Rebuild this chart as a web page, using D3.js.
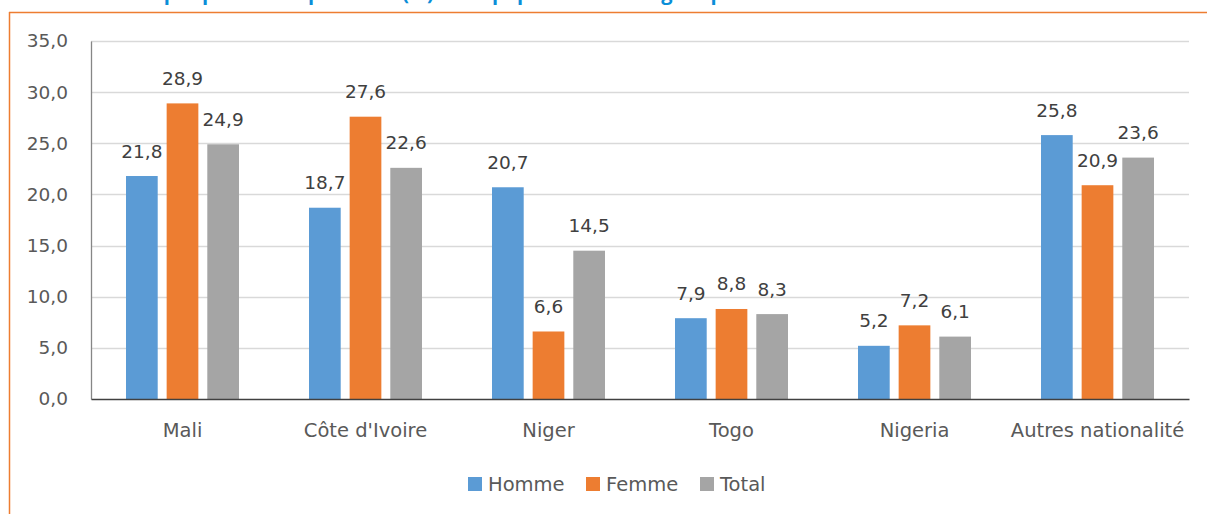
<!DOCTYPE html>
<html>
<head>
<meta charset="utf-8">
<script src="https://cdn.jsdelivr.net/npm/d3@7"></script>
<style>
  html, body { margin: 0; padding: 0; background: #fff; }
  svg { display: block; font-family: 'DejaVu Sans', sans-serif; }
</style>
</head>
<body>
<svg id="vis_svg" width="1207" height="514"></svg>
<script>
// data
const categories = ['Mali', "Côte d'Ivoire", 'Niger', 'Togo', 'Nigeria', 'Autres nationalité'];
const seriesNames = ['Homme', 'Femme', 'Total'];
const homme = [21.8, 18.7, 20.7, 7.9, 5.2, 25.8];
const femme = [28.9, 27.6, 6.6, 8.8, 7.2, 20.9];
const total = [24.9, 22.6, 14.5, 8.3, 6.1, 23.6];
const yTicks = [0, 5, 10, 15, 20, 25, 30, 35];
const colors = ['#5B9BD5', '#ED7D31', '#A5A5A5'];
const title = 'Graphique 2.3 : Répartition (%) de la population étrangère par nationalité selon le sexe';

const values = [homme, femme, total];
const fmt = (v) => v.toFixed(1).replace('.', ',');

const margin = { top: 41, bottom: 115, left: 91, right: 18 };
const svg = d3.select('#vis_svg');
const width = 1207;
const height = 514;

// frame of the document box (orange)
svg.append('line')
  .attr('x1', 9).attr('x2', width).attr('y1', 12.5).attr('y2', 12.5)
  .attr('stroke', '#ED7D31').attr('stroke-width', 1.5);
svg.append('line')
  .attr('x1', 9.5).attr('x2', 9.5).attr('y1', 12).attr('y2', height)
  .attr('stroke', '#ED7D31').attr('stroke-width', 1.5);

// title, cut by the top edge as in the source
svg.append('text')
  .attr('x', 560).attr('y', 0)
  .attr('text-anchor', 'middle')
  .style('font-family', "'Open Sans', sans-serif")
  .style('font-weight', 'bold')
  .style('font-size', '20px')
  .attr('fill', '#0B8ED8')
  .text(title);

const x0 = d3.scaleBand()
  .domain(categories)
  .range([margin.left, width - margin.right]);

const x1 = d3.scaleBand()
  .domain(seriesNames)
  .range([35, 148])
  .paddingInner(0.22)
  .paddingOuter(0);

const yScale = d3.scaleLinear().domain([0, 35]).range([height - margin.bottom, margin.top]);

// gridlines
svg.append('g')
  .selectAll('line')
  .data(yTicks.slice(1))
  .enter()
  .append('line')
  .attr('x1', margin.left)
  .attr('x2', width - margin.right)
  .attr('y1', (d) => Math.round(yScale(d)) + 0.5)
  .attr('y2', (d) => Math.round(yScale(d)) + 0.5)
  .attr('stroke', '#D9D9D9')
  .attr('stroke-width', 1.3);

// y axis labels
const yAxis = svg.append('g')
  .attr('transform', `translate(${margin.left},0)`)
  .call(d3.axisLeft(yScale).tickValues(yTicks).tickSize(0).tickPadding(23).tickFormat(fmt));
yAxis.select('.domain').attr('stroke', '#868686').attr('stroke-width', 1.3);
yAxis.selectAll('text')
  .attr('fill', '#595959')
  .style('font-size', '18.5px')
  .style('font-family', "'DejaVu Sans', sans-serif");

// bars
const groups = svg.append('g')
  .selectAll('g')
  .data(categories)
  .enter()
  .append('g')
  .attr('transform', (d) => `translate(${x0(d)},0)`);

const cells = groups.selectAll('g')
  .data((c, ci) => seriesNames.map((s, si) => ({ s, si, v: values[si][ci] })))
  .enter()
  .append('g');

cells.append('rect')
  .attr('x', (d) => x1(d.s))
  .attr('width', x1.bandwidth())
  .attr('y', (d) => yScale(d.v))
  .attr('height', (d) => yScale(0) - yScale(d.v))
  .attr('fill', (d) => colors[d.si]);

cells.append('text')
  .attr('x', (d) => x1(d.s) + x1.bandwidth() / 2)
  .attr('y', (d) => yScale(d.v) - 18.5)
  .attr('text-anchor', 'middle')
  .attr('fill', '#404040')
  .style('font-size', '18.5px')
  .text((d) => fmt(d.v));

// x axis
const xAxis = svg.append('g')
  .attr('transform', `translate(0,${yScale(0)})`)
  .call(d3.axisBottom(x0).tickSize(0).tickPadding(24));
xAxis.select('.domain').attr('stroke', '#404040').attr('stroke-width', 1.3);
xAxis.selectAll('text')
  .attr('fill', '#595959')
  .style('font-size', '19.5px')
  .style('font-family', "'DejaVu Sans', sans-serif");

// legend
const legendX = [468, 586, 700];
const legend = svg.append('g')
  .selectAll('g')
  .data(seriesNames)
  .enter()
  .append('g')
  .attr('transform', (d, i) => `translate(${legendX[i]},477)`);
legend.append('rect')
  .attr('width', 14).attr('height', 14)
  .attr('fill', (d, i) => colors[i]);
legend.append('text')
  .attr('x', 20).attr('y', 14)
  .attr('fill', '#595959')
  .style('font-size', '19.5px')
  .text((d) => d);
</script>
</body>
</html>
